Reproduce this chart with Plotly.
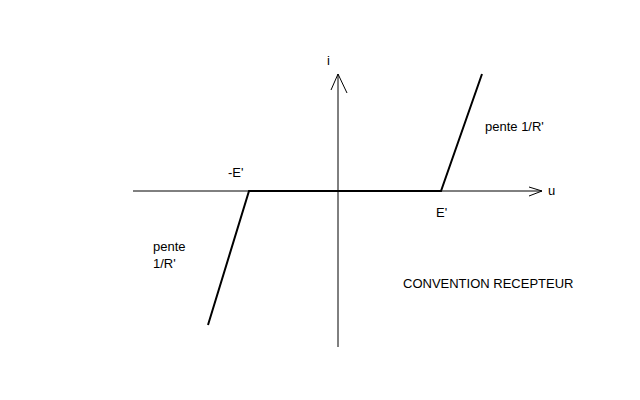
import plotly.graph_objects as go

# Characteristic curve (u, i) in drawing units (origin at axes crossing)
curve_u = [-130, -89, 103, 144]
curve_i = [-134, 0, 0, 117]

# Axes extents
u_axis = [-205, 204]
i_axis = [-156, 117]

# Arrow heads (open V)
u_arrow_u = [191, 204, 191]
u_arrow_i = [4, 0, -5]
i_arrow_u = [-7, 0, 9]
i_arrow_i = [101, 117, 98]

labels_text = ["i", "u", "-E'", "E'", "pente 1/R'", "pente<br>1/R'", "CONVENTION RECEPTEUR"]
labels_u = [-10, 213, -103, 103, 176, -169, 150]
labels_i = [131, 1, 19, -21, 65, -64, -92]
labels_align = ["center", "center", "center", "center", "center", "left", "center"]

fig = go.Figure()
line_style = dict(color="black", width=1)
fig.add_trace(go.Scatter(x=u_axis, y=[0, 0], mode="lines", line=line_style))
fig.add_trace(go.Scatter(x=[0, 0], y=i_axis, mode="lines", line=line_style))
fig.add_trace(go.Scatter(x=u_arrow_u, y=u_arrow_i, mode="lines", line=line_style))
fig.add_trace(go.Scatter(x=i_arrow_u, y=i_arrow_i, mode="lines", line=line_style))
fig.add_trace(go.Scatter(x=curve_u, y=curve_i, mode="lines",
                         line=dict(color="black", width=2)))

for t, xu, yi, al in zip(labels_text, labels_u, labels_i, labels_align):
    fig.add_annotation(x=xu, y=yi, text=t, showarrow=False, align=al,
                       xanchor="center", yanchor="middle",
                       font=dict(family="Liberation Sans, Arial", size=13, color="black"))

fig.update_layout(
    width=640, height=400,
    margin=dict(l=0, r=0, t=0, b=0),
    paper_bgcolor="white", plot_bgcolor="white",
    showlegend=False,
    xaxis=dict(range=[-330, 310], visible=False, fixedrange=True),
    yaxis=dict(range=[-217, 183], visible=False, fixedrange=True),
)
fig.write_html("out.html")
